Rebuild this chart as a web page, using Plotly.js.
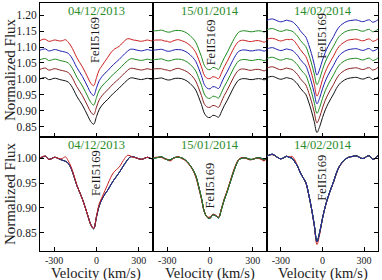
<!DOCTYPE html>
<html>
<head>
<meta charset="utf-8">
<script src="https://cdn.plot.ly/plotly-3.0.1.min.js"></script>
<style>html,body{margin:0;padding:0;background:#fff}#chart{width:382px;height:280px}</style>
</head>
<body>
<div id="chart"></div>
<script>
// ---------------- data ----------------
const velocity = [-400,-380,-360,-340,-320,-300,-280,-260,-240,-220,-200,-180,-160,-140,-120,-100,-80,-60,-40,-20,0,20,40,60,80,100,120,140,160,180,200,220,240,260,280,300,320,340,360,380,400];

const flux_0412_a = [1.000,1.003,1.004,0.998,0.999,1.002,1.001,0.998,0.996,0.994,0.990,0.980,0.964,0.946,0.932,0.918,0.901,0.883,0.866,0.858,0.882,0.905,0.918,0.928,0.936,0.946,0.955,0.963,0.971,0.980,0.989,0.997,1.003,1.003,1.001,0.999,0.998,1.000,1.002,1.000,0.999];
const flux_0412_b = [1.000,1.004,1.004,0.998,0.999,1.002,1.001,0.999,1.000,1.003,0.995,0.983,0.966,0.947,0.932,0.918,0.901,0.883,0.866,0.859,0.884,0.909,0.922,0.935,0.948,0.961,0.971,0.977,0.982,0.991,1.000,1.006,1.005,1.002,1.001,0.999,0.998,1.000,1.002,1.000,0.999];

const flux_1501_a = [1.000,1.001,1.002,1.003,1.000,0.997,0.997,1.000,1.002,1.002,1.001,0.998,0.993,0.986,0.977,0.965,0.944,0.920,0.893,0.881,0.879,0.886,0.884,0.880,0.897,0.916,0.932,0.950,0.968,0.984,0.996,1.000,1.001,1.000,0.998,0.998,1.000,1.001,1.000,0.997,1.002];
const flux_1501_b = [1.000,1.002,1.002,1.002,0.999,0.998,0.995,0.999,1.002,1.003,1.000,0.997,0.992,0.985,0.976,0.963,0.942,0.918,0.892,0.882,0.881,0.887,0.885,0.881,0.898,0.918,0.934,0.952,0.970,0.986,0.997,1.001,1.001,0.999,0.997,0.998,1.000,1.000,0.998,0.995,1.001];

const flux_1402_a = [1.004,1.007,1.008,1.005,1.001,0.999,1.001,1.004,1.002,1.000,0.993,0.984,0.971,0.961,0.951,0.928,0.900,0.867,0.832,0.851,0.879,0.903,0.922,0.938,0.953,0.970,0.983,0.991,0.997,1.001,1.003,1.004,1.005,1.003,1.000,1.000,1.004,1.005,0.998,1.000,1.006];
const flux_1402_b = [1.004,1.007,1.007,1.005,1.001,0.999,1.001,1.004,1.003,1.004,0.997,0.985,0.972,0.961,0.950,0.927,0.899,0.865,0.826,0.847,0.878,0.902,0.921,0.937,0.952,0.969,0.982,0.990,0.996,1.001,1.003,1.004,1.005,1.003,1.000,1.000,1.004,1.005,0.998,1.000,1.006];

const nights = ['04/12/2013', '15/01/2014', '14/02/2014'];
const spectra_0412 = [flux_0412_a, flux_0412_a, flux_0412_a, flux_0412_a, flux_0412_b];
const spectra_1501 = [flux_1501_a, flux_1501_b, flux_1501_a, flux_1501_a, flux_1501_b, flux_1501_a];
const spectra_1402 = [flux_1402_a, flux_1402_a, flux_1402_a, flux_1402_a, flux_1402_b, flux_1402_a, flux_1402_a];
const offsets = [0, 0.03, 0.06, 0.09, 0.12, 0.15, 0.18];
const lineLabel = 'FeII5169';
const labelPos_top = [[-11, 1.122], [3, 1.116], [-4, 1.135]];
const labelPos_bottom = [[-4, 0.970], [3, 0.946], [0, 0.960]];
const xTickVals = [-300, 0, 300];
const xTickText = ['-300', '0', '300'];
const yTickTop = [0.85, 0.90, 0.95, 1.00, 1.05, 1.10, 1.15, 1.20];
const yTickBottom = [0.85, 0.90, 0.95, 1.00];
const xTitle = 'Velocity (km/s)';
const yTitle = 'Normalized Flux';

// ---------------- styles ----------------
const palette = ['#111111', '#8b2020', '#1f8a1f', '#2020b0', '#cc1f1f', '#1f8a1f', '#2020b0'];
const FONT = 'Liberation Serif';
const TXT = '#1a1a1a';
const dateColor = '#2a8c2a';

const allSpectra = [spectra_0412, spectra_1501, spectra_1402];
const traces = [];
allSpectra.forEach((set, c) => {
  set.forEach((flux, i) => {
    traces.push({
      x: velocity, y: flux.map(f => f + offsets[i]),
      xaxis: 'x' + (c === 0 ? '' : c + 1), yaxis: 'y' + (c === 0 ? '' : c + 1),
      type: 'scatter', mode: 'lines', line: {color: palette[i], width: 1, shape: 'spline'},
      hoverinfo: 'skip', showlegend: false
    });
  });
});
allSpectra.forEach((set, c) => {
  set.forEach((flux, i) => {
    traces.push({
      x: velocity, y: flux,
      xaxis: 'x' + (c + 4), yaxis: 'y' + (c + 4),
      type: 'scatter', mode: 'lines', line: {color: palette[i], width: 1, shape: 'spline'},
      hoverinfo: 'skip', showlegend: false
    });
  });
});

const colDom = [[0, 0.3343], [0.3343, 0.6716], [0.6716, 1]];
const rowTop = [0.4597, 1], rowBot = [0, 0.4597];

function xax(c, bottom) {
  return {
    domain: colDom[c], range: [-400, 400], anchor: 'y' + (bottom ? c + 4 : (c === 0 ? '' : c + 1)),
    tickvals: xTickVals, ticktext: xTickText, ticks: 'inside', ticklen: 4, tickcolor: '#000',
    showline: true, linecolor: '#000', linewidth: 1, mirror: true,
    showgrid: false, zeroline: false, showticklabels: bottom,
    tickfont: {family: FONT, size: 10, color: TXT}
  };
}
function yax(c, bottom) {
  return {
    domain: bottom ? rowBot : rowTop,
    range: bottom ? [0.813, 1.043] : [0.818, 1.238],
    anchor: 'x' + (bottom ? c + 4 : (c === 0 ? '' : c + 1)),
    tickvals: bottom ? yTickBottom : yTickTop, tickformat: '.2f',
    ticks: 'inside', ticklen: 4, tickcolor: '#000',
    showline: true, linecolor: '#000', linewidth: 1,
    mirror: c === 0 ? 'ticks' : true, side: c === 0 ? 'left' : 'right',
    showgrid: false, zeroline: false, showticklabels: c === 0,
    tickfont: {family: FONT, size: 11.5, color: TXT}
  };
}

const layout = {
  width: 382, height: 280,
  margin: {l: 40, r: 4, t: 3, b: 29},
  paper_bgcolor: '#fff', plot_bgcolor: '#fff',
  font: {family: FONT, color: TXT},
  showlegend: false,
  annotations: []
};
for (let c = 0; c < 3; c++) {
  const s = c === 0 ? '' : c + 1;
  layout['xaxis' + s] = xax(c, false);
  layout['yaxis' + s] = yax(c, false);
  layout['xaxis' + (c + 4)] = xax(c, true);
  layout['yaxis' + (c + 4)] = yax(c, true);
  [['x' + s, 'y' + s, labelPos_top[c]], ['x' + (c + 4), 'y' + (c + 4), labelPos_bottom[c]]].forEach(([xr, yr, pos]) => {
    layout.annotations.push({
      text: nights[c], xref: xr + ' domain', yref: yr + ' domain', x: 0.5, y: 1, yshift: -8,
      xanchor: 'center', yanchor: 'middle', showarrow: false,
      font: {family: FONT, size: 12.5, color: dateColor}
    });
    layout.annotations.push({
      text: lineLabel, xref: xr, yref: yr, x: pos[0], y: pos[1], textangle: -90,
      xanchor: 'center', yanchor: 'middle', showarrow: false,
      font: {family: FONT, size: 12.5, color: TXT}
    });
  });
  // x-axis title under each bottom panel
  layout.annotations.push({
    text: xTitle, xref: 'x' + (c + 4) + ' domain', yref: 'paper', x: 0.5, y: 0, yshift: -22,
    xanchor: 'center', yanchor: 'middle', showarrow: false,
    font: {family: FONT, size: 14.5, color: TXT}
  });
}
// y-axis titles
[[rowTop, 'y'], [rowBot, 'y4']].forEach(([dom, yr]) => {
  layout.annotations.push({
    text: yTitle, xref: 'paper', yref: yr + ' domain', x: 0, xshift: -30, y: 0.5,
    textangle: -90, xanchor: 'center', yanchor: 'middle', showarrow: false,
    font: {family: FONT, size: 15, color: TXT}
  });
});

Plotly.newPlot('chart', traces, layout, {staticPlot: true, displayModeBar: false});
</script>
</body>
</html>
